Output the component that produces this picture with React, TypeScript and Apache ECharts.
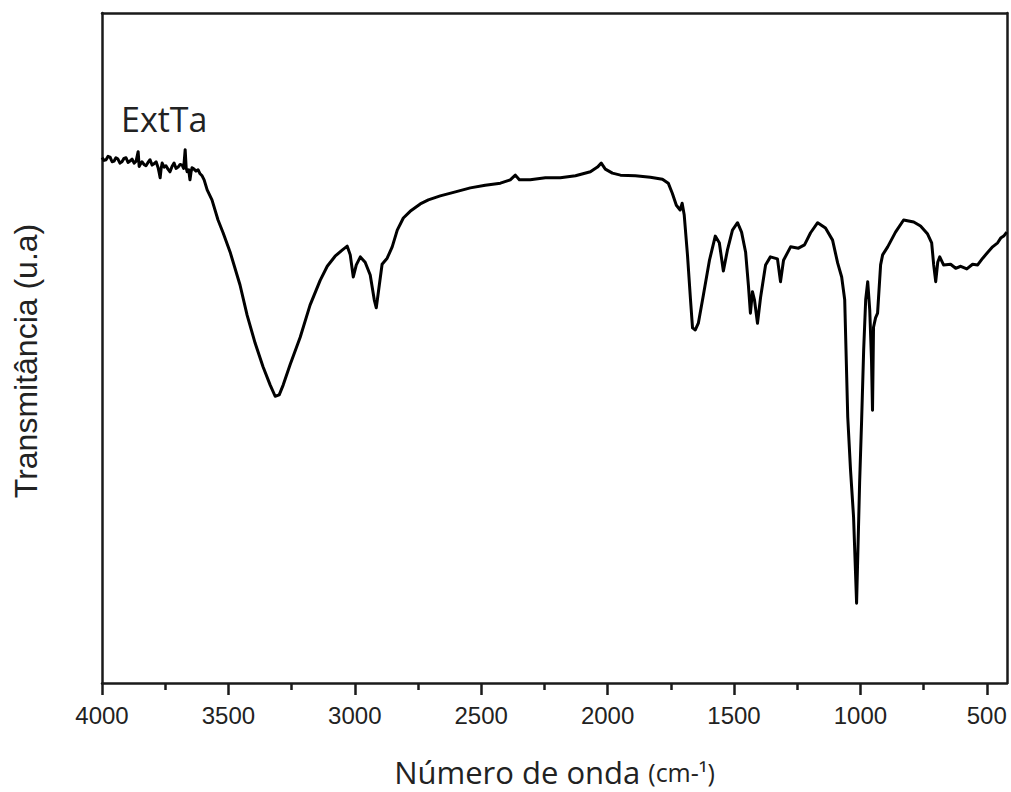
import React, { useEffect, useRef } from "react";
import * as echarts from "echarts";

const wavenumbers: number[] = [
  4000, 3992, 3984, 3976, 3968, 3960, 3952, 3945, 3937, 3929, 3921, 3913, 3905, 3897, 3889, 3881,
  3873, 3865, 3857, 3853, 3850, 3842, 3834, 3826, 3818, 3810, 3802, 3794, 3786, 3778, 3774,
  3770, 3766, 3762, 3754, 3747, 3739, 3731, 3723, 3715, 3707, 3699, 3691, 3683, 3677, 3671, 3667,
  3663, 3657, 3652, 3648, 3644, 3636, 3628, 3620, 3612, 3604, 3596, 3584, 3565,
  3541, 3521, 3493, 3454, 3426, 3394, 3363, 3335, 3315, 3299, 3283, 3256, 3216, 3177, 3137, 3109,
  3078, 3050, 3030, 3018, 3006, 2994, 2978, 2959, 2939, 2923, 2915, 2903, 2892, 2872, 2852, 2832,
  2808, 2781, 2741, 2709, 2662, 2602, 2543, 2484, 2424, 2385, 2365, 2349, 2306, 2246, 2187, 2127,
  2068, 2040, 2025, 2009, 1981, 1949, 1890, 1831, 1783, 1760, 1744, 1728, 1713, 1705, 1697, 1684,
  1672, 1664, 1653, 1641, 1621, 1597, 1574, 1558, 1542, 1526, 1506, 1486, 1470, 1454, 1443, 1435,
  1427, 1419, 1407, 1395, 1375, 1356, 1328, 1316, 1304, 1276, 1245, 1221, 1197, 1169, 1138, 1110,
  1090, 1074, 1062, 1050, 1039, 1027, 1015, 1003, 995, 987, 979, 971, 963, 956, 952, 948,
  940, 932, 920, 912, 892, 861, 829, 789, 762, 734, 718, 710, 702, 694, 686, 671,
  643, 623, 603, 579, 556, 536, 516, 496, 477, 457, 445, 433, 421,
];

const transmittance: number[] = [
  78.4, 78.0, 78.1, 78.6, 78.5, 77.8, 77.9, 78.4, 78.2, 77.6, 77.8, 78.3, 78.4, 77.7, 77.9, 78.2,
  77.6, 77.9, 79.3, 77.1, 77.3, 77.8, 77.4, 77.2, 77.7, 78.1, 77.3, 77.5, 77.8, 76.9, 76.2,
  75.4, 76.8, 77.6, 77.0, 77.2, 76.7, 76.3, 77.1, 77.6, 76.8, 77.0, 77.4, 77.3, 76.8, 79.6, 76.9,
  76.3, 76.6, 75.1, 76.2, 76.9, 76.7, 76.4, 76.6, 76.0, 75.7, 75.1, 73.6, 72.1,
  69.1, 67.2, 64.3, 59.4, 54.9, 50.7, 47.2, 44.5, 42.8, 43.0, 44.5, 47.5, 51.6, 56.4, 60.1, 62.2,
  63.7, 64.6, 65.2, 63.9, 60.6, 62.4, 63.6, 62.8, 60.9, 57.2, 56.0, 59.4, 62.5, 63.4, 65.1, 67.6,
  69.4, 70.4, 71.5, 72.1, 72.7, 73.3, 73.9, 74.3, 74.6, 75.1, 75.8, 75.1, 75.1, 75.4, 75.4, 75.7,
  76.3, 77.0, 77.6, 76.7, 76.1, 75.8, 75.7, 75.5, 75.2, 74.6, 73.1, 71.3, 70.6, 71.6, 69.9, 63.9,
  57.2, 53.0, 52.7, 53.7, 57.9, 63.1, 66.7, 65.7, 61.5, 64.6, 67.6, 68.7, 67.3, 64.3, 59.4, 55.2,
  58.4, 57.2, 53.7, 57.5, 62.4, 63.6, 63.3, 59.9, 63.1, 65.1, 64.9, 65.4, 67.2, 68.7, 67.9, 66.1,
  62.7, 60.6, 57.2, 39.7, 31.8, 24.8, 11.9, 29.9, 39.3, 49.7, 57.2, 59.9, 55.7, 48.2, 40.7, 53.1,
  54.5, 55.2, 62.4, 63.9, 65.1, 67.3, 69.1, 68.8, 68.2, 67.0, 65.7, 62.4, 59.9, 62.8, 63.6, 62.4,
  62.5, 61.9, 62.2, 61.8, 62.5, 62.4, 63.4, 64.3, 65.1, 65.7, 66.4, 66.7, 67.3,
];

const majorTicks: number[] = [4000, 3500, 3000, 2500, 2000, 1500, 1000, 500];
const minorTicks: number[] = [3750, 3250, 2750, 2250, 1750, 1250, 750];

const sampleLabel = "ExtTa";
const xName = "Número de onda";
const xUnit = "(cm-¹)";
const yName = "Transmitância (u.a)";

export default function App() {
  const ref = useRef<HTMLDivElement>(null);

  useEffect(() => {
    if (!ref.current) return;
    const chart = echarts.init(ref.current, undefined, { renderer: "svg" });
    const data = wavenumbers.map((w, i) => [w, transmittance[i]]);
    const lineColor = "#1a1a1a";

    chart.setOption({
      animation: false,
      backgroundColor: "#ffffff",
      grid: {
        left: 102,
        right: 4,
        top: 13,
        bottom: 109,
        containLabel: false,
        outerBoundsMode: "none",
      },
      xAxis: [
        {
          type: "value",
          inverse: true,
          min: 420,
          max: 4000,
          position: "bottom",
          axisLine: { show: true, lineStyle: { color: lineColor, width: 2.5 } },
          axisTick: {
            show: true,
            inside: false,
            length: 12,
            customValues: majorTicks,
            lineStyle: { color: lineColor, width: 2.5 },
          },
          axisLabel: {
            show: true,
            customValues: majorTicks,
            formatter: (v: number) => String(v),
            margin: 20,
            fontSize: 24,
            color: "#222",
            fontFamily: "'Liberation Sans', Arial, sans-serif",
          },
          splitLine: { show: false },
          name: xName + " {u|" + xUnit + "}",
          nameLocation: "middle",
          nameGap: 73,
          nameTextStyle: {
            fontSize: 31,
            color: "#222",
            fontFamily: "'Open Sans', sans-serif",
            rich: {
              u: { fontSize: 25, color: "#222", fontFamily: "'Open Sans', sans-serif" },
            },
          },
        },
        {
          type: "value",
          inverse: true,
          min: 420,
          max: 4000,
          position: "bottom",
          axisLine: { show: false },
          axisTick: {
            show: true,
            inside: false,
            length: 7,
            customValues: minorTicks,
            lineStyle: { color: lineColor, width: 2.5 },
          },
          axisLabel: { show: false },
          splitLine: { show: false },
        },
        {
          type: "value",
          inverse: true,
          min: 420,
          max: 4000,
          position: "top",
          axisLine: { show: true, lineStyle: { color: lineColor, width: 2.5 } },
          axisTick: { show: false },
          axisLabel: { show: false },
          splitLine: { show: false },
        },
      ],
      yAxis: [
        {
          type: "value",
          min: 0,
          max: 100,
          position: "left",
          axisLine: { show: true, lineStyle: { color: lineColor, width: 2.5 } },
          axisTick: { show: false },
          axisLabel: { show: false },
          splitLine: { show: false },
          name: yName,
          nameLocation: "middle",
          nameGap: 60,
          nameTextStyle: {
            fontSize: 32,
            color: "#222",
            fontFamily: "'Liberation Sans', Arial, sans-serif",
            padding: [0, 26, 0, 0],
          },
        },
        {
          type: "value",
          min: 0,
          max: 100,
          position: "right",
          axisLine: { show: true, lineStyle: { color: lineColor, width: 2.5 } },
          axisTick: { show: false },
          axisLabel: { show: false },
          splitLine: { show: false },
        },
      ],
      graphic: [
        {
          type: "text",
          left: 121,
          top: 102,
          style: {
            text: sampleLabel,
            fontSize: 34,
            fontFamily: "'Open Sans', sans-serif",
            fill: "#222",
          },
        },
      ],
      series: [
        {
          type: "line",
          xAxisIndex: 0,
          yAxisIndex: 0,
          data,
          showSymbol: false,
          symbol: "none",
          lineStyle: { color: "#000", width: 3, join: "round" },
        },
      ],
    });

    return () => {
      chart.dispose();
    };
  }, []);

  return <div ref={ref} style={{ width: 1011, height: 792, position: "absolute", left: 0, top: 0 }} />;
}
